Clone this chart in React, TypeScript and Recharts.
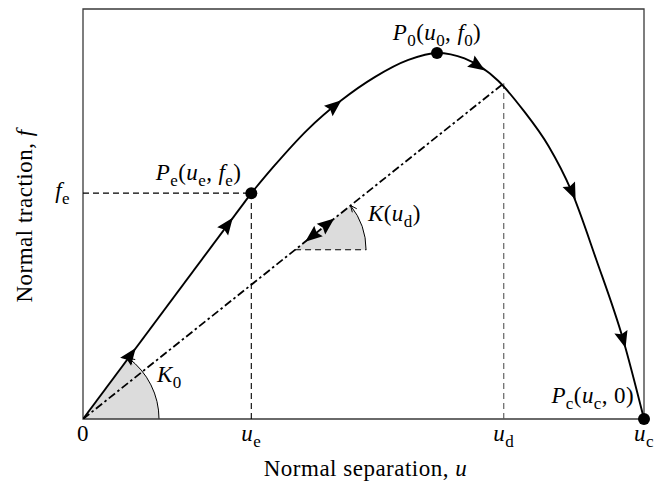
import {
  ComposedChart,
  Label,
  Line,
  ReferenceArea,
  ReferenceDot,
  ReferenceLine,
  Scatter,
  XAxis,
  YAxis,
} from "recharts";

const FONT = "'Liberation Serif', 'Times New Roman', serif";
const FS = 23;

const W = 662;
const H = 482;
const MARGIN = { top: 9, right: 18, bottom: 0, left: 0 };
const YAXIS_W = 83;
const XAXIS_H = 63;
const U_MAX = 1;
const F_MAX = 1.12;
// pixels per data unit, used only to orient arrowheads / wedges
const PX_U = (W - MARGIN.left - MARGIN.right - YAXIS_W) / U_MAX;
const PX_F = (H - MARGIN.top - MARGIN.bottom - XAXIS_H) / F_MAX;

// key points of the traction-separation law (u_c = 1, f_0 = 1)
const U_E = 0.3;
const F_E = 0.617;
const U_0 = 0.631;
const F_0 = 1.0;
const U_D = 0.75;
const F_D = 0.917;
const U_C = 1.0;

const elasticBranch = [
  { u: 0, f: 0 },
  { u: U_E, f: F_E },
];
const softeningU = [0.3, 0.34, 0.4, 0.46, 0.52, 0.58, 0.631, 0.68, 0.74, 0.785, 0.83, 0.87, 0.915, 0.963, 1.0];
const softeningF = [0.617, 0.69, 0.79, 0.87, 0.934, 0.981, 1.0, 0.985, 0.924, 0.843, 0.745, 0.625, 0.435, 0.216, 0];
const unloadingBranch = [
  { u: 0, f: 0 },
  { u: U_D, f: F_D },
];

// arrowheads along the path: position + tangent (df/du) + travel direction
const curveArrows = [
  { u: 0.085, f: 0.175, slope: F_E / U_E, dir: 1 },
  { u: 0.258, f: 0.531, slope: F_E / U_E, dir: 1 },
  { u: 0.449, f: 0.856, slope: 1.25, dir: 1 },
  { u: 0.704, f: 0.965, slope: -1.0, dir: 1 },
  { u: 0.872, f: 0.62, slope: -3.5, dir: 1 },
  { u: 0.963, f: 0.216, slope: -5.4, dir: 1 },
];
const unloadArrows = [
  { u: 0.436, f: 0.533, slope: F_D / U_D, dir: 1 },
  { u: 0.408, f: 0.499, slope: F_D / U_D, dir: -1 },
];

// secant stiffness wedge on the unloading line
const K_D_U = 0.378;
const K_D_F = (K_D_U * F_D) / U_D;
const K_D_U_END = 0.505;

const xTicks = [0, U_E, U_D, U_C];
const xTickLabels = ["0", "u_e", "u_d", "u_c"];
const yTicks = [F_E];
const yTickLabels = ["f_e"];

const softening = softeningU.map((u, i) => ({ u, f: softeningF[i] }));

type Tok = { t: string; it: boolean; sub: boolean };

function tokens(s: string): Tok[] {
  const out: Tok[] = [];
  for (let i = 0; i < s.length; i++) {
    const c = s[i];
    let tk: Tok;
    if (c === "_") {
      tk = { t: s[i + 1], it: false, sub: true };
      i++;
    } else {
      tk = { t: c, it: /[A-Za-z]/.test(c), sub: false };
    }
    const last = out[out.length - 1];
    if (last && last.it === tk.it && last.sub === tk.sub) last.t += tk.t;
    else out.push(tk);
  }
  return out;
}

function MathText({
  x,
  y,
  text,
  anchor = "start",
  size = FS,
}: {
  x: number;
  y: number;
  text: string;
  anchor?: "start" | "middle" | "end";
  size?: number;
}) {
  let shift = 0;
  const down = size * 0.27;
  return (
    <text
      x={x}
      y={y}
      textAnchor={anchor}
      fontSize={size}
      fontFamily={FONT}
      fill="#000"
      letterSpacing={0.4}
      style={{ whiteSpace: "pre" }}
    >
      {tokens(text).map((tk, i) => {
        const target = tk.sub ? down : 0;
        const dy = target - shift;
        shift = target;
        return (
          <tspan
            key={i}
            dy={dy !== 0 ? dy : undefined}
            fontStyle={tk.it ? "italic" : "normal"}
            fontSize={tk.sub ? size * 0.74 : undefined}
          >
            {tk.t}
          </tspan>
        );
      })}
    </text>
  );
}

function Arrowhead(props: any) {
  const { cx, cy, payload } = props;
  if (cx == null || cy == null) return <g />;
  const ang = (Math.atan2(-payload.slope * PX_F * payload.dir, PX_U * payload.dir) * 180) / Math.PI;
  const L = 17;
  const w = 6.8;
  const d = `M${L / 2},0 L${-L / 2},${-w} L${-L / 2 + 2.5},0 L${-L / 2},${w} Z`;
  return <path d={d} transform={`translate(${cx},${cy}) rotate(${ang})`} fill="#000" />;
}

function Wedge({ cx, cy, radius, slope }: { cx: number; cy: number; radius: number; slope: number }) {
  const th = Math.atan2(slope * PX_F, PX_U);
  const ex = cx + radius * Math.cos(th);
  const ey = cy - radius * Math.sin(th);
  // tangent of the arc (counter-clockwise on screen) at its end
  const tx = -Math.sin(th);
  const ty = -Math.cos(th);
  const len = 7;
  const a = 0.42;
  const barb = (s: number) => {
    const bx = -tx;
    const by = -ty;
    return [ex + len * (bx * Math.cos(s) - by * Math.sin(s)), ey + len * (bx * Math.sin(s) + by * Math.cos(s))];
  };
  const [l1x, l1y] = barb(a);
  const [l2x, l2y] = barb(-a);
  return (
    <g>
      <path d={`M${cx},${cy} L${cx + radius},${cy} A${radius},${radius} 0 0 0 ${ex},${ey} Z`} fill="#dcdcdc" />
      <path d={`M${cx + radius},${cy} A${radius},${radius} 0 0 0 ${ex},${ey}`} fill="none" stroke="#000" strokeWidth={1} />
      <path d={`M${l1x},${l1y} L${ex},${ey} L${l2x},${l2y}`} fill="none" stroke="#000" strokeWidth={1} />
    </g>
  );
}

function XTick(props: any) {
  const { x, y, payload } = props;
  const i = xTicks.indexOf(payload.value);
  return <MathText x={x} y={y + 22} text={xTickLabels[i] ?? ""} anchor="middle" />;
}

function YTick(props: any) {
  const { x, y, payload } = props;
  const i = yTicks.indexOf(payload.value);
  return <MathText x={x - 13} y={y + 5} text={yTickLabels[i] ?? ""} anchor="end" />;
}

function YTitle(props: any) {
  const vb = props.viewBox ?? { x: 0, y: MARGIN.top, width: YAXIS_W, height: 410 };
  const cx = vb.x + 32;
  const cy = vb.y + vb.height / 2 + 2;
  return (
    <text
      x={cx}
      y={cy}
      transform={`rotate(-90, ${cx}, ${cy})`}
      textAnchor="middle"
      fontSize={FS}
      fontFamily={FONT}
      fill="#000"
      letterSpacing={0.5}
    >
      Normal traction, <tspan fontStyle="italic">f</tspan>
    </text>
  );
}

function XTitle(props: any) {
  const vb = props.viewBox ?? { x: YAXIS_W, y: 419, width: 561, height: XAXIS_H };
  return (
    <text
      x={vb.x + vb.width / 2 + 2}
      y={vb.y + 57}
      textAnchor="middle"
      fontSize={FS}
      fontFamily={FONT}
      fill="#000"
      letterSpacing={0.5}
    >
      Normal separation, <tspan fontStyle="italic">u</tspan>
    </text>
  );
}

const textAt = (text: string, dx: number, dy: number, anchor: "start" | "middle" | "end") =>
  (p: any) => <MathText x={p.cx + dx} y={p.cy + dy} text={text} anchor={anchor} />;

export default function App() {
  return (
    <div style={{ width: W, height: H }}>
      <style>{"body{margin:0}"}</style>
      <ComposedChart width={W} height={H} margin={MARGIN}>
        <XAxis
          type="number"
          dataKey="u"
          domain={[0, U_MAX]}
          ticks={xTicks}
          allowDataOverflow
          axisLine={false}
          tickLine={false}
          tickSize={0}
          tickMargin={0}
          height={XAXIS_H}
          tick={<XTick />}
          interval={0}
        >
          <Label content={<XTitle />} />
        </XAxis>
        <YAxis
          type="number"
          dataKey="f"
          domain={[0, F_MAX]}
          ticks={yTicks}
          allowDataOverflow
          axisLine={false}
          tickLine={false}
          tickSize={0}
          tickMargin={0}
          width={YAXIS_W}
          tick={<YTick />}
          interval={0}
        >
          <Label content={<YTitle />} />
        </YAxis>

        <ReferenceDot x={0} y={0} r={0} zIndex={-50} shape={(p: any) => <Wedge cx={p.cx} cy={p.cy} radius={76} slope={F_E / U_E} />} />
        <ReferenceDot x={K_D_U} y={K_D_F} r={0} zIndex={-50} shape={(p: any) => <Wedge cx={p.cx} cy={p.cy} radius={71} slope={F_D / U_D} />} />

        <ReferenceArea x1={0} x2={U_MAX} y1={0} y2={F_MAX} fill="none" stroke="#3a3a3a" strokeWidth={1.3} zIndex={-40} />

        <ReferenceLine segment={[{ x: 0, y: F_E }, { x: U_E, y: F_E }]} stroke="#000" strokeWidth={1.1} strokeDasharray="6 4" zIndex={-30} />
        <ReferenceLine segment={[{ x: U_E, y: 0 }, { x: U_E, y: F_E }]} stroke="#000" strokeWidth={1.1} strokeDasharray="6 4" zIndex={-30} />
        <ReferenceLine segment={[{ x: U_D, y: 0 }, { x: U_D, y: F_D }]} stroke="#555" strokeWidth={1.1} strokeDasharray="6 4" zIndex={-30} />
        <ReferenceLine segment={[{ x: K_D_U, y: K_D_F }, { x: K_D_U_END, y: K_D_F }]} stroke="#000" strokeWidth={1.1} strokeDasharray="6 4" zIndex={-30} />

        <Line data={unloadingBranch} dataKey="f" type="linear" stroke="#000" strokeWidth={1.8} strokeDasharray="8 3 2.5 3" dot={false} isAnimationActive={false} />
        <Line data={elasticBranch} dataKey="f" type="linear" stroke="#000" strokeWidth={1.9} dot={false} isAnimationActive={false} />
        <Line data={softening} dataKey="f" type="monotone" stroke="#000" strokeWidth={1.9} dot={false} isAnimationActive={false} />

        <Scatter data={curveArrows} dataKey="f" shape={<Arrowhead />} isAnimationActive={false} />
        <Scatter data={unloadArrows} dataKey="f" shape={<Arrowhead />} isAnimationActive={false} />

        <ReferenceDot x={U_E} y={F_E} r={6} fill="#000" stroke="none" zIndex={700} />
        <ReferenceDot x={U_0} y={F_0} r={6} fill="#000" stroke="none" zIndex={700} />
        <ReferenceDot x={U_C} y={0} r={6} fill="#000" stroke="none" zIndex={700} />

        <ReferenceDot x={U_E} y={F_E} r={0} zIndex={800} shape={textAt("P_e(u_e, f_e)", -10, -13, "end")} />
        <ReferenceDot x={U_0} y={F_0} r={0} zIndex={800} shape={textAt("P_0(u_0, f_0)", 0, -13, "middle")} />
        <ReferenceDot x={U_C} y={0} r={0} zIndex={800} shape={textAt("P_c(u_c, 0)", -10, -16, "end")} />
        <ReferenceDot x={0} y={0} r={0} zIndex={800} shape={textAt("K_0", 74, -37, "start")} />
        <ReferenceDot x={K_D_U} y={K_D_F} r={0} zIndex={800} shape={textAt("K(u_d)", 73, -29, "start")} />
      </ComposedChart>
    </div>
  );
}
